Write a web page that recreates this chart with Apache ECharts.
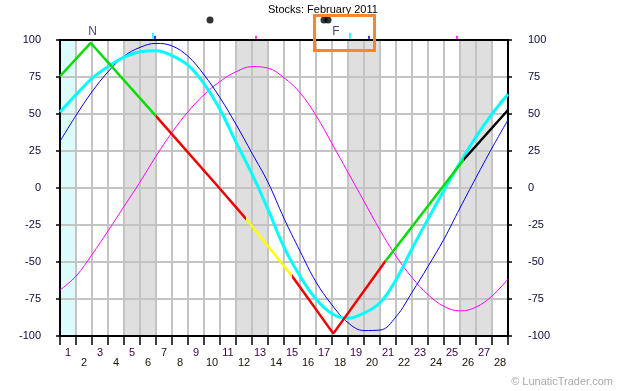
<!DOCTYPE html>
<html>
<head>
<meta charset="utf-8">
<script src="https://cdn.jsdelivr.net/npm/echarts@6/dist/echarts.min.js"></script>
<style>html,body{margin:0;padding:0;background:#fff}#c{width:623px;height:391px}</style>
</head>
<body>
<div id="c"></div>
<script>
// ---- data ----
const days = ['1','2','3','4','5','6','7','8','9','10','11','12','13','14','15','16','17','18','19','20','21','22','23','24','25','26','27','28'];
const dayPos = [0,1,2,3,4,5,6,7,8,9,10,11,12,13,14,15,16,17,18,19,20,21,22,23,24,25,26,27,28];
const cyanVals = [51.4,63,74,82,88.5,92,92.8,89.5,83,70.5,53,31,9.5,-14.5,-40,-59.5,-75,-85,-88,-84.5,-77.5,-62,-41,-21,-1.5,17,34.5,50,63.3];
const blueVals = [31.5,49,65,78.5,89,95,97.7,96,89,76.5,61,43,23.5,3.8,-20.5,-42.6,-63.5,-79,-91,-96.3,-96,-87,-70.5,-53,-34.5,-13.5,7,27,46];
const magentaVals = [-69,-59.5,-45,-29,-12.5,4,21.5,37.5,51.5,63,72,78.5,82,81,74.5,64.4,49,30,10.5,-9,-28.5,-46,-60.5,-72,-80,-83,-80.5,-73,-61.5];
const mainX = [0,1.92,6,9.875,11.6,14.5,16,17.08,20.3,25.25,28];
const mainY = [75.5,98,48.6,1,-20.5,-59.5,-82,-98.4,-50,19.4,52.7];
const mainBreaks = [6,11.6,14.5,20.3,25.25];
const mainColors = ['#00dd00','#ee0000','#ffff00','#ee0000','#00dd00','#000000'];
const bands = [[0,1],[4,6],[11,13],[18,20],[25,27]];
const bandColors = ['#dcfcfc','#dfdfdf','#dfdfdf','#dfdfdf','#dfdfdf'];
const eventDays = [9.375,16.5,16.75];
const moonDays = [2.04,17.25];
const moonLabels = ['N','F'];
const cyanExt = [5.81,18.125];
const blueExt = [5.94,19.31];
const magentaExt = [12.25,24.81];
const yTicks = {min:-100,max:100,interval:25};
// levels (in axis units) of the marker rows above the plot
const dotLevel = 113.5, letterLevel = 105.4, cyanTickLevel = 102.9, extTickLevel = 101.8;

const FONT = 'Liberation Sans, Arial, sans-serif';
const chart = echarts.init(document.getElementById('c'), null, {renderer:'canvas'});

const pieces = [];
for (let i = 0; i < mainColors.length; i++) {
  const p = {color: mainColors[i]};
  if (i > 0) p.gte = mainBreaks[i-1];
  if (i < mainBreaks.length) p.lt = mainBreaks[i];
  pieces.push(p);
}
const pairs = (xs, ys) => xs.map((x,i)=>[x, ys[i]]);

const yAxisBase = {
  type:'value', min:yTicks.min, max:yTicks.max, interval:yTicks.interval, z:1,
  axisLine:{show:true, onZero:false, lineStyle:{color:'#000', width:2}},
  axisTick:{show:true, length:4, lineStyle:{color:'#000', width:1.5}},
  axisLabel:{fontSize:11, color:'#0a0a3c', fontFamily:FONT}
};

chart.setOption({
  animation:false,
  textStyle:{fontFamily:FONT},
  title:{text:'Stocks: February 2011', left:268, top:4, padding:0,
    textStyle:{fontSize:11, fontWeight:'normal', color:'#000', fontFamily:FONT}},
  grid:{left:60, right:115, top:40, bottom:55},
  xAxis:[
    {type:'value', min:0, max:28, interval:1, position:'bottom', z:1,
      axisLine:{onZero:false, lineStyle:{color:'#000', width:2}},
      axisTick:{length:9, lineStyle:{color:'#000', width:1.5}},
      axisLabel:{show:false},
      splitLine:{show:true, lineStyle:{color:'#c4c4c4', width:2}}},
    {type:'category', data:days, position:'bottom', boundaryGap:true,
      axisLine:{show:false, onZero:false}, axisTick:{show:false}, splitLine:{show:false},
      axisLabel:{interval:0, margin:11, fontSize:11,
        formatter:(v,i)=> (i%2===0 ? '{o|'+v+'}' : '{e|'+v+'}'),
        rich:{o:{fontSize:11, color:'#330044', fontFamily:FONT},
              e:{fontSize:11, color:'#1a1000', fontFamily:FONT, padding:[10,0,0,0]}}}},
    {type:'value', min:0, max:28, position:'top', z:1,
      axisLine:{show:true, onZero:false, lineStyle:{color:'#000', width:2}},
      axisTick:{show:false}, axisLabel:{show:false}, splitLine:{show:false}}
  ],
  yAxis:[
    Object.assign({}, yAxisBase, {position:'left',
      axisLabel:Object.assign({}, yAxisBase.axisLabel, {margin:19}),
      splitLine:{show:true, lineStyle:{color:'#c4c4c4', width:2}}}),
    Object.assign({}, yAxisBase, {position:'right',
      axisLabel:Object.assign({}, yAxisBase.axisLabel, {margin:20}),
      splitLine:{show:false}})
  ],
  visualMap:{type:'piecewise', show:false, dimension:0, seriesIndex:4, pieces:pieces},
  series:[
    {type:'custom', z:0, silent:true, data:bands.map((b,i)=>[b[0],b[1],i]),
      encode:{x:[0,1]},
      renderItem:function(params, api){
        const p0 = api.coord([api.value(0), yTicks.max]);
        const p1 = api.coord([api.value(1), yTicks.min]);
        return {type:'rect', shape:{x:p0[0], y:p0[1], width:p1[0]-p0[0], height:p1[1]-p0[1]},
          style:{fill:bandColors[api.value(2)]}};
      }},
    {type:'line', data:pairs(dayPos, magentaVals), smooth:0.4, showSymbol:false, z:2,
      lineStyle:{color:'#ff00ff', width:1}},
    {type:'line', data:pairs(dayPos, blueVals), smooth:0.4, showSymbol:false, z:2,
      lineStyle:{color:'#0000ee', width:1}},
    {type:'line', data:pairs(dayPos, cyanVals), smooth:0.4, showSymbol:false, z:3,
      lineStyle:{color:'#00ffff', width:3}},
    {type:'line', data:pairs(mainX, mainY), showSymbol:false, z:4,
      lineStyle:{width:2.5}},
    {type:'scatter', clip:false, z:5, data:eventDays.map(d=>[d, dotLevel]),
      symbol:'circle', symbolSize:7, itemStyle:{color:'#000'}},
    {type:'scatter', clip:false, z:5,
      data:moonDays.map((d,i)=>({value:[d, letterLevel], name:moonLabels[i]})),
      symbolSize:1, itemStyle:{color:'rgba(0,0,0,0)'},
      label:{show:true, position:'inside', formatter:'{b}', fontSize:12, color:'#141450', fontFamily:FONT}},
    {type:'scatter', clip:false, z:5, data:cyanExt.map(d=>[d, cyanTickLevel]),
      symbol:'rect', symbolSize:[2,6], itemStyle:{color:'#00ffff'}},
    {type:'scatter', clip:false, z:5, data:blueExt.map(d=>[d, extTickLevel]),
      symbol:'rect', symbolSize:[2,3], itemStyle:{color:'#0000ee'}},
    {type:'scatter', clip:false, z:5, data:magentaExt.map(d=>[d, extTickLevel]),
      symbol:'rect', symbolSize:[2,3], itemStyle:{color:'#ff00ff'}}
  ],
  graphic:[
    {type:'rect', z:100, shape:{x:314.5, y:15.5, width:60, height:35},
      style:{fill:'none', stroke:'#f7862e', lineWidth:3}},
    {type:'text', z:100, x:613, y:382,
      style:{text:'\u00a9 LunaticTrader.com', fill:'#a8a8a8', font:'11px '+FONT, textAlign:'right', textVerticalAlign:'middle'}}
  ]
});
</script>
</body>
</html>
